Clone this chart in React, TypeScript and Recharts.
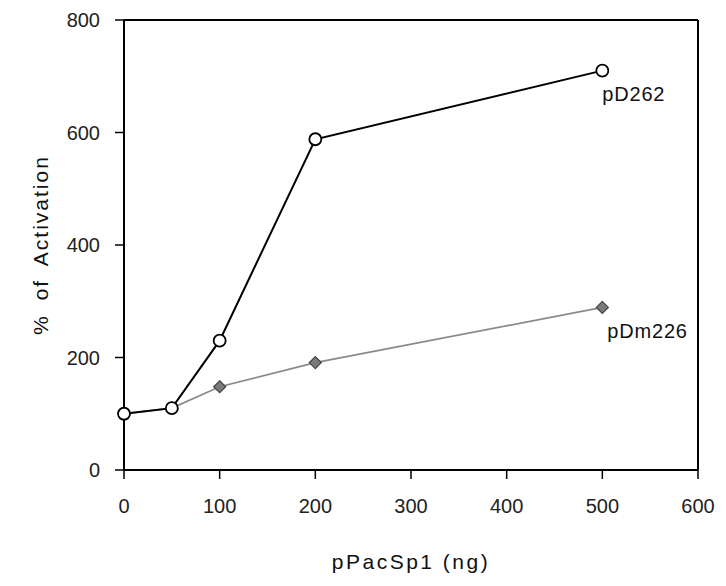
import React from 'react';
import { LineChart, Line, XAxis, YAxis, ReferenceLine, LabelList, Label } from 'recharts';

const doses = [0, 50, 100, 200, 500];
const pD262 = [100, 110, 230, 588, 710];
const pDm226 = [100, 110, 148, 191, 289];
const xTicks = [0, 100, 200, 300, 400, 500, 600];
const yTicks = [0, 200, 400, 600, 800];
const seriesNames = ['pD262', 'pDm226'];

const data = doses.map((d, i) => ({ dose: d, pD262: pD262[i], pDm226: pDm226[i] }));

const FONT = '"Liberation Sans", Arial, Helvetica, sans-serif';

const Diamond = (props: any) => {
  const { cx, cy } = props;
  if (cx == null || cy == null) return null;
  const s = 6;
  return (
    <polygon
      points={`${cx},${cy - s} ${cx + s},${cy} ${cx},${cy + s} ${cx - s},${cy}`}
      fill="#7a7a7a"
      stroke="#444"
      strokeWidth={1.2}
    />
  );
};

const makeEndLabel = (name: string, dx: number, dy: number) => (props: any) => {
  const { x, y, index } = props;
  if (index !== doses.length - 1) return null;
  return (
    <text x={x + dx} y={y + dy} fontSize={20} fontFamily={FONT} fill="#111" letterSpacing={0.8}>
      {name}
    </text>
  );
};

export default function App() {
  return (
    <div style={{ position: 'absolute', left: 0, top: 0, width: 726, height: 586, background: '#fff' }}>
      <LineChart width={726} height={586} data={data} margin={{ top: 20, right: 28, left: 0, bottom: 0 }}>
        <XAxis
          dataKey="dose"
          type="number"
          domain={[0, 600]}
          ticks={xTicks}
          height={116}
          tickSize={9}
          tickMargin={20}
          axisLine={{ stroke: '#000', strokeWidth: 2 }}
          tickLine={{ stroke: '#000', strokeWidth: 1.5 }}
          tick={{ fontSize: 20, fill: '#222', fontFamily: FONT }}
        >
          <Label
            content={(p: any) => {
              const vb = p.viewBox || { x: 124, y: 470, width: 574, height: 116 };
              return (
                <text x={vb.x + vb.width / 2} y={vb.y + 99} textAnchor="middle" fontSize={21} fontFamily={FONT} fill="#111" letterSpacing={2.5}>
                  pPacSp1 (ng)
                </text>
              );
            }}
          />
        </XAxis>
        <YAxis
          type="number"
          domain={[0, 800]}
          ticks={yTicks}
          width={124}
          tickSize={9}
          tickMargin={15}
          axisLine={{ stroke: '#000', strokeWidth: 2 }}
          tickLine={{ stroke: '#000', strokeWidth: 1.5 }}
          tick={{ fontSize: 20, fill: '#222', fontFamily: FONT }}
        >
          <Label
            content={(p: any) => {
              const vb = p.viewBox || { x: 0, y: 20, width: 124, height: 450 };
              const cx = 40;
              const cy = vb.y + vb.height / 2;
              return (
                <text x={cx} y={cy} transform={`rotate(-90, ${cx}, ${cy})`} textAnchor="middle" dominantBaseline="central" fontSize={21} fontFamily={FONT} fill="#111" letterSpacing={2} wordSpacing={6}>
                  % of Activation
                </text>
              );
            }}
          />
        </YAxis>
        <ReferenceLine y={800} stroke="#000" strokeWidth={2} />
        <ReferenceLine x={600} stroke="#000" strokeWidth={2} />
        <Line
          type="linear"
          dataKey="pDm226"
          stroke="#8a8a8a"
          strokeWidth={1.8}
          dot={<Diamond />}
          isAnimationActive={false}
        >
          <LabelList dataKey="pDm226" content={makeEndLabel(seriesNames[1], 5, 31)} />
        </Line>
        <Line
          type="linear"
          dataKey="pD262"
          stroke="#000"
          strokeWidth={2}
          dot={{ r: 6, fill: '#fff', stroke: '#000', strokeWidth: 1.8 }}
          isAnimationActive={false}
        >
          <LabelList dataKey="pD262" content={makeEndLabel(seriesNames[0], 0, 30)} />
        </Line>
      </LineChart>
    </div>
  );
}
